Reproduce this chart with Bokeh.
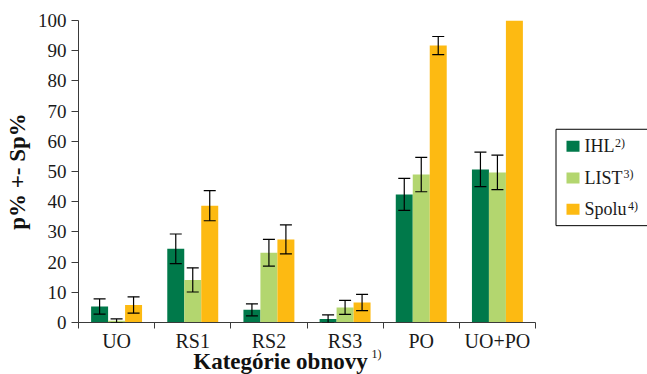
from bokeh.plotting import figure
from bokeh.models import ColumnDataSource, Range1d, FixedTicker, Whisker, TeeHead
from bokeh.layouts import row, column
from bokeh.core.properties import value
from bokeh.embed import file_html
from bokeh.resources import INLINE

# ---- data ----
categories = ["UO", "RS1", "RS2", "RS3", "PO", "UO+PO"]
series_names = ["IHL", "LIST", "Spolu"]
series_notes = ["2)", "3)", "4)"]
ihl = [5.3, 24.4, 4.2, 1.2, 42.4, 50.7]
ihl_err = [2.5, 4.9, 2.0, 1.3, 5.3, 5.7]
list_vals = [0.6, 14.1, 23.1, 5.0, 49.0, 49.7]
list_err = [0.6, 4.0, 4.4, 2.3, 5.7, 5.7]
spolu = [5.8, 38.7, 27.5, 6.6, 91.7, 100.0]
spolu_err = [2.7, 5.0, 4.8, 2.7, 3.0, None]
y_ticks = [0, 10, 20, 30, 40, 50, 60, 70, 80, 90, 100]
x_title = "Kategórie obnovy"
x_title_note = "1)"
y_title = "p% +- Sp%"

# ---- style / layout ----
colors = ["#00794A", "#B3D66F", "#FDBA12"]
FONT = "Liberation Serif"
BAR_W = 0.223
AXIS_COLOR = "#3a3a3a"
TEXT_COLOR = "#1a1a1a"
W, H = 647, 374
MAIN_W = 550
FRAME_LEFT, FRAME_RIGHT, FRAME_TOP, FRAME_BOTTOM = 78, 535, 20, 322
MAIN_H = FRAME_BOTTOM + 7

values = [ihl, list_vals, spolu]
errors = [ihl_err, list_err, spolu_err]
n = len(categories)
centers = [i + 0.5 for i in range(n)]
offsets = [-BAR_W, 0.0, BAR_W]

p = figure(width=MAIN_W, height=MAIN_H, x_range=Range1d(0, n), y_range=Range1d(0, 100),
           output_backend="svg", toolbar_location=None, title=None,
           min_border_left=FRAME_LEFT, min_border_right=MAIN_W - FRAME_RIGHT,
           min_border_top=FRAME_TOP, min_border_bottom=MAIN_H - FRAME_BOTTOM)
p.outline_line_color = None
p.grid.visible = False
p.background_fill_color = "white"
p.border_fill_color = "white"

for s in range(3):
    xs = [c + offsets[s] for c in centers]
    src = ColumnDataSource(dict(x=xs, top=values[s]))
    p.vbar(x="x", top="top", bottom=0, width=BAR_W, source=src,
           fill_color=colors[s], line_color=None)

for s in range(3):
    wx, up, lo = [], [], []
    for i in range(n):
        e = errors[s][i]
        if e is None:
            continue
        wx.append(centers[i] + offsets[s])
        up.append(values[s][i] + e)
        lo.append(values[s][i] - e)
    wsrc = ColumnDataSource(dict(x=wx, upper=up, lower=lo))
    w = Whisker(base="x", upper="upper", lower="lower", source=wsrc, dimension="height",
                line_color="black", line_width=1.2, level="overlay",
                upper_head=TeeHead(size=12, line_color="black", line_width=1.2),
                lower_head=TeeHead(size=12, line_color="black", line_width=1.2))
    p.add_layout(w)

# x axis (line + category separators; the category names sit in the strip below)
xa = p.xaxis[0]
xa.ticker = FixedTicker(ticks=centers, minor_ticks=[float(i) for i in range(n + 1)])
xa.major_label_overrides = {c: "" for c in centers}
xa.major_label_text_font_size = "0px"
xa.major_label_standoff = 0
xa.major_tick_out = 0
xa.major_tick_in = 0
xa.minor_tick_out = 6
xa.minor_tick_in = 0
xa.minor_tick_line_color = AXIS_COLOR
xa.axis_line_color = AXIS_COLOR

# y axis
ya = p.yaxis[0]
ya.ticker = FixedTicker(ticks=y_ticks, minor_ticks=[])
ya.major_tick_out = 7
ya.major_tick_in = 0
ya.minor_tick_out = 0
ya.minor_tick_in = 0
ya.major_tick_line_color = AXIS_COLOR
ya.axis_line_color = AXIS_COLOR
ya.major_label_text_font = FONT
ya.major_label_text_font_size = "19px"
ya.major_label_text_color = TEXT_COLOR
ya.major_label_standoff = 5
ya.axis_label = y_title
ya.axis_label_text_font = FONT
ya.axis_label_text_font_style = "bold"
ya.axis_label_text_font_size = "23px"
ya.axis_label_text_color = "#111111"
ya.axis_label_standoff = 5

# ---- legend panel ----
lg_w = W - MAIN_W
lg = figure(width=lg_w, height=MAIN_H, x_range=Range1d(0, lg_w), y_range=Range1d(MAIN_H, 0),
            output_backend="svg", toolbar_location=None, title=None, min_border=0,
            x_axis_location=None, y_axis_location=None)
lg.outline_line_color = None
lg.grid.visible = False
lg.background_fill_color = "white"
lg.border_fill_color = "white"

row_y = [137, 171.5, 205.5]
lg.quad(left=[5.5], right=[130], top=[118.5], bottom=[223.5], fill_color=None,
        line_color="black", line_width=1)
lg.rect(x=[22.5] * 3, y=row_y, width=13, height=12, fill_color=colors, line_color=None)
lg.text(x=[34] * 3, y=row_y, text=series_names, text_baseline="middle",
        text_font=value(FONT), text_font_size="18px", text_color=TEXT_COLOR)
lg.text(x=[64.5, 73, 77.5], y=[yy - 11.5 for yy in row_y], text=series_notes,
        text_baseline="top", text_font=value(FONT), text_font_size="12px",
        text_color=TEXT_COLOR)

# ---- bottom strip: category names + x title, same horizontal scale as the chart ----
strip_h = H - MAIN_H
st = figure(width=W, height=strip_h, x_range=Range1d(0, n), y_range=Range1d(strip_h, 0),
            output_backend="svg", toolbar_location=None, title=None,
            min_border_left=FRAME_LEFT, min_border_right=W - FRAME_RIGHT,
            min_border_top=0, min_border_bottom=0,
            x_axis_location=None, y_axis_location=None)
st.outline_line_color = None
st.grid.visible = False
st.background_fill_color = "white"
st.border_fill_color = "white"
st.text(x=centers, y=[340.5 - MAIN_H] * n, text=categories, text_align="center",
        text_baseline="middle", text_font=value(FONT), text_font_size="20px",
        text_color=TEXT_COLOR)
title_x = 2.652   # horizontal centre of the title, in category units
note_x = 3.847
st.text(x=[title_x], y=[361 - MAIN_H], text=[x_title], text_align="center",
        text_baseline="middle", text_font=value(FONT), text_font_style="bold",
        text_font_size="23px", text_color="#111111")
st.text(x=[note_x], y=[346 - MAIN_H], text=[x_title_note], text_align="left",
        text_baseline="top", text_font=value(FONT), text_font_size="12px",
        text_color="#111111")

layout = column(row(p, lg), st)
open("out.html", "w").write(file_html(layout, INLINE))
